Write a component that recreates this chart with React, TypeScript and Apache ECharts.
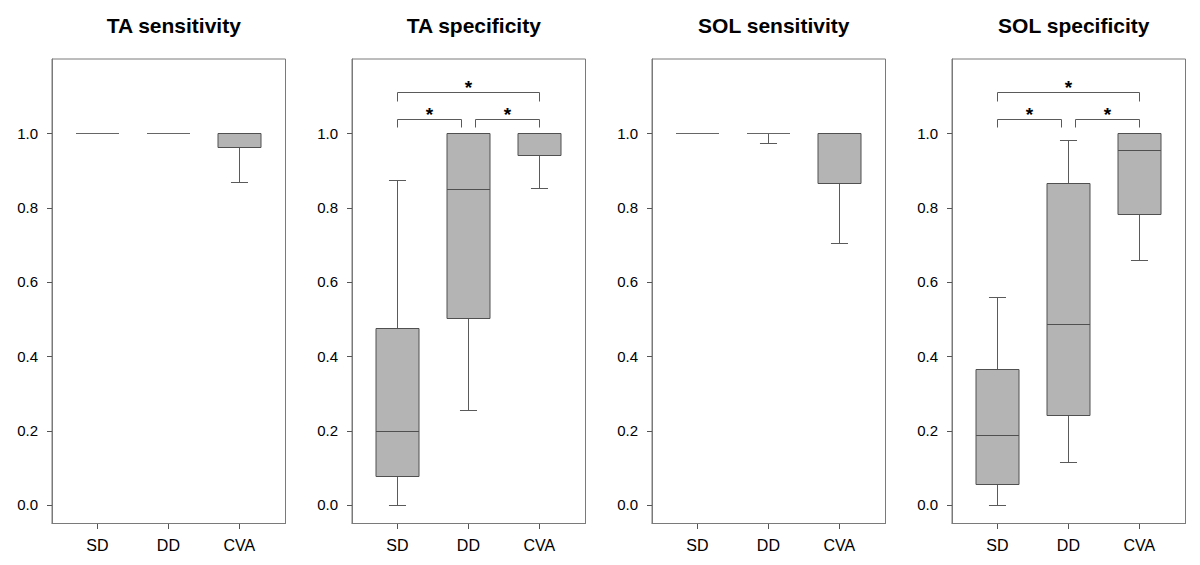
import React, { useEffect, useRef } from "react";
import * as echarts from "echarts";

const categories = ["SD", "DD", "CVA"];
const panelTitles = ["TA sensitivity", "TA specificity", "SOL sensitivity", "SOL specificity"];
const yTicks = [0, 0.2, 0.4, 0.6, 0.8, 1.0];
const xTicks = [0, 1, 2];
const Y_MIN = -0.05;
const Y_MAX = 1.2;
const X_MIN = -0.64;
const X_MAX = 2.65;

// [min, q1, median, q3, max] per category
const taSensitivity = [
  [1, 1, 1, 1, 1],
  [1, 1, 1, 1, 1],
  [0.87, 0.962, 1, 1, 1],
];
const taSpecificity = [
  [0, 0.078, 0.2, 0.475, 0.875],
  [0.255, 0.504, 0.85, 1, 1],
  [0.853, 0.943, 1, 1, 1],
];
const solSensitivity = [
  [1, 1, 1, 1, 1],
  [0.974, 1, 1, 1, 1],
  [0.706, 0.866, 1, 1, 1],
];
const solSpecificity = [
  [0, 0.055, 0.188, 0.365, 0.56],
  [0.115, 0.242, 0.488, 0.867, 0.983],
  [0.66, 0.784, 0.955, 1, 1],
];

// significance brackets: [fromX, toX, yLow, yHigh, label]
const sigBrackets: [number, number, number, number, string][] = [
  [0, 0.9, 1.016, 1.039, "*"],
  [1.1, 2, 1.016, 1.039, "*"],
  [0, 2, 1.088, 1.112, "*"],
];

const panelData = [taSensitivity, taSpecificity, solSensitivity, solSpecificity];
const panelBrackets = [[], sigBrackets, [], sigBrackets];

const FONT = "'Liberation Sans', Arial, Helvetica, sans-serif";
const TICK_LEN = 5;

export default function App() {
  const ref = useRef<HTMLDivElement>(null);
  useEffect(() => {
    document.body.style.margin = "0";
    if (!ref.current) return;
    const chart = echarts.init(ref.current, null, { renderer: "svg" });

    const grids: any[] = [];
    const xAxes: any[] = [];
    const yAxes: any[] = [];
    const series: any[] = [];
    const titles: any[] = [];

    panelData.forEach((boxes, i) => {
      const left = 52 + 300 * i;
      const width = 233.5;
      grids.push({
        left,
        top: 59,
        width,
        height: 464.5,
        show: true,
        borderColor: "#7a7a7a",
        borderWidth: 1,
        backgroundColor: "transparent",
      });
      titles.push({
        text: panelTitles[i],
        left: left + width / 2,
        top: 10,
        textAlign: "center",
        textStyle: { fontFamily: FONT, fontSize: 21, fontWeight: "bold", color: "#000" },
      });
      xAxes.push({
        type: "value",
        gridIndex: i,
        min: X_MIN,
        max: X_MAX,
        position: "bottom",
        axisLine: { show: true, onZero: false, lineStyle: { color: "#7a7a7a", width: 1 } },
        splitLine: { show: false },
        axisTick: { show: false },
        axisLabel: {
          show: true,
          customValues: xTicks,
          formatter: (v: number) => categories[Math.round(v)] ?? "",
          margin: 14,
          fontFamily: FONT,
          fontSize: 16,
          color: "#000",
        },
      });
      yAxes.push({
        type: "value",
        gridIndex: i,
        min: Y_MIN,
        max: Y_MAX,
        position: "left",
        axisLine: { show: true, onZero: false, lineStyle: { color: "#7a7a7a", width: 1 } },
        splitLine: { show: false },
        axisTick: { show: false },
        axisLabel: {
          show: true,
          customValues: yTicks,
          formatter: (v: number) => v.toFixed(1),
          margin: 14,
          fontFamily: FONT,
          fontSize: 15,
          color: "#000",
        },
      });

      series.push({
        type: "custom",
        xAxisIndex: i,
        yAxisIndex: i,
        encode: { x: 0, y: [1, 2, 3, 4, 5] },
        data: boxes.map((b, k) => [k, ...b]),
        renderItem: (params: any, api: any) => {
          const x = api.value(0);
          const mn = api.value(1), q1 = api.value(2), md = api.value(3), q3 = api.value(4), mx = api.value(5);
          const unit = api.size([1, 0])[0];
          const halfBox = unit * 0.303;
          const halfCap = unit * 0.12;
          const cx = Math.round(api.coord([x, md])[0]) + 0.5;
          const py = (v: number) => Math.round(api.coord([x, v])[1]) + 0.5;
          const wStyle = { stroke: "#5a5a5a", lineWidth: 1, fill: null };
          const children: any[] = [];
          if (mn < q1) {
            children.push({ type: "line", shape: { x1: cx, y1: py(q1), x2: cx, y2: py(mn) }, style: wStyle });
            children.push({ type: "line", shape: { x1: cx - halfCap, y1: py(mn), x2: cx + halfCap, y2: py(mn) }, style: wStyle });
          }
          if (mx > q3) {
            children.push({ type: "line", shape: { x1: cx, y1: py(q3), x2: cx, y2: py(mx) }, style: wStyle });
            children.push({ type: "line", shape: { x1: cx - halfCap, y1: py(mx), x2: cx + halfCap, y2: py(mx) }, style: wStyle });
          }
          if (q3 > q1) {
            const yt = py(q3), yb = py(q1);
            children.push({
              type: "rect",
              shape: { x: Math.round(cx - halfBox), y: yt, width: Math.round(halfBox * 2), height: yb - yt },
              style: { fill: "#b4b4b4", stroke: "#505050", lineWidth: 1 },
            });
          }
          children.push({
            type: "line",
            shape: { x1: Math.round(cx - halfBox), y1: py(md), x2: Math.round(cx - halfBox) + Math.round(halfBox * 2), y2: py(md) },
            style: { stroke: q3 > q1 ? "#505050" : "#666", lineWidth: 1 },
          });
          return { type: "group", children };
        },
        silent: true,
      });

      const br = panelBrackets[i];
      if (br.length) {
        series.push({
          type: "custom",
          xAxisIndex: i,
          yAxisIndex: i,
          encode: { x: [0, 1], y: [2, 3] },
          data: br,
          renderItem: (params: any, api: any) => {
            const x1 = api.value(0), x2 = api.value(1), yl = api.value(2), yh = api.value(3);
            const p1 = api.coord([x1, yl]);
            const p2 = api.coord([x1, yh]);
            const p3 = api.coord([x2, yh]);
            const p4 = api.coord([x2, yl]);
            const r = (p: number[]) => [Math.round(p[0]) + 0.5, Math.round(p[1]) + 0.5];
            const top = r(p2)[1];
            return {
              type: "group",
              children: [
                {
                  type: "polyline",
                  shape: { points: [r(p1), r(p2), r(p3), r(p4)] },
                  style: { stroke: "#5a5a5a", lineWidth: 1, fill: null },
                },
                {
                  type: "text",
                  x: (p2[0] + p3[0]) / 2,
                  y: top + 4,
                  style: {
                    text: "*",
                    fontFamily: FONT,
                    fontSize: 19,
                    fontWeight: "bold",
                    fill: "#000",
                    align: "center",
                    verticalAlign: "bottom",
                  },
                },
              ],
            };
          },
          silent: true,
        });
      }
    });

    chart.setOption({
      animation: false,
      backgroundColor: "#fff",
      title: titles,
      grid: grids,
      xAxis: xAxes,
      yAxis: yAxes,
      series,
    });

    // Tick marks placed through the library's own scales (convertToPixel)
    try {
      const tickEls: any[] = [];
      const tickStyle = { stroke: "#555", lineWidth: 1 };
      panelData.forEach((_, i) => {
        yTicks.forEach((v) => {
          const p = chart.convertToPixel({ gridIndex: i } as any, [X_MIN, v]) as number[];
          if (!p) return;
          const x = Math.round(p[0]);
          const y = Math.round(p[1]) + 0.5;
          tickEls.push({ type: "line", silent: true, z: 100, shape: { x1: x - TICK_LEN, y1: y, x2: x, y2: y }, style: tickStyle });
        });
        xTicks.forEach((v) => {
          const p = chart.convertToPixel({ gridIndex: i } as any, [v, Y_MIN]) as number[];
          if (!p) return;
          const x = Math.round(p[0]) + 0.5;
          const y = Math.round(p[1]);
          tickEls.push({ type: "line", silent: true, z: 100, shape: { x1: x, y1: y, x2: x, y2: y + TICK_LEN }, style: tickStyle });
        });
      });
      chart.setOption({ graphic: { elements: tickEls } });
    } catch (e) {
      // ignore
    }
    return () => chart.dispose();
  }, []);
  return <div ref={ref} style={{ width: 1200, height: 565 }} />;
}
